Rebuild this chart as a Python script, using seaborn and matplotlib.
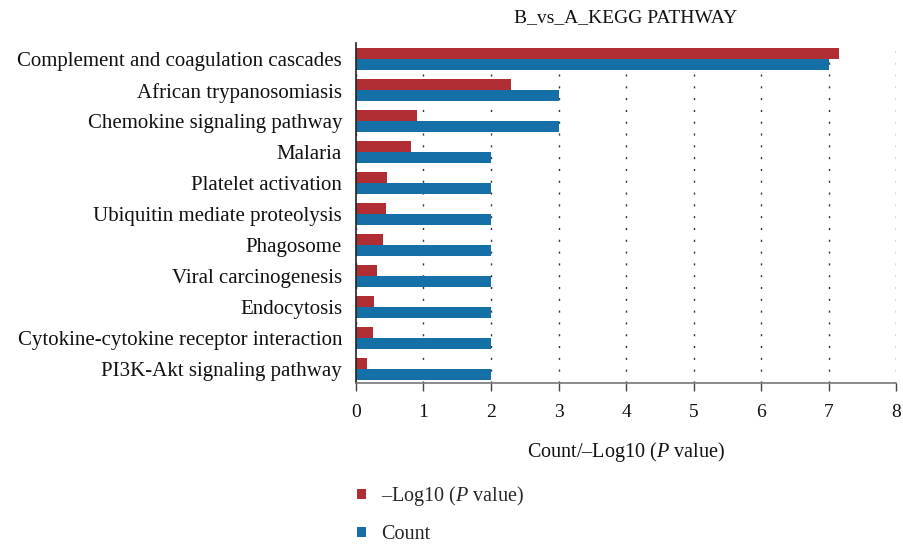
import seaborn as sns
import matplotlib.pyplot as plt
import pandas as pd

# KEGG pathways, top to bottom
pathways = [
    'Complement and coagulation cascades', 'African trypanosomiasis',
    'Chemokine signaling pathway', 'Malaria', 'Platelet activation',
    'Ubiquitin mediate proteolysis', 'Phagosome', 'Viral carcinogenesis',
    'Endocytosis', 'Cytokine-cytokine receptor interaction',
    'PI3K-Akt signaling pathway'
]
neg_log_p = [7.16, 2.30, 0.90, 0.82, 0.46, 0.45, 0.40, 0.31, 0.27, 0.25, 0.16]
counts = [7, 3, 3, 2, 2, 2, 2, 2, 2, 2, 2]

lab_p = '–Log10 ($P$ value)'
lab_c = 'Count'

df = pd.DataFrame({
    'Pathway': pathways * 2,
    'Measure': [lab_p] * len(pathways) + [lab_c] * len(pathways),
    'Value': neg_log_p + counts,
})

sns.set_theme(style='white')
plt.rcParams['font.family'] = ['Liberation Serif', 'DejaVu Serif']
plt.rcParams['mathtext.fontset'] = 'custom'
plt.rcParams['mathtext.rm'] = 'Liberation Serif'
plt.rcParams['mathtext.it'] = 'Liberation Serif:italic'

fig = plt.figure(figsize=(9.04, 5.46), dpi=100)
ax = fig.add_axes([356 / 904, 1 - 383 / 546, 540 / 904, 340 / 546])

sns.barplot(data=df, y='Pathway', x='Value', hue='Measure',
            hue_order=[lab_p, lab_c], order=pathways,
            palette=['#B02E33', '#1670A8'], saturation=1, width=0.72,
            linewidth=0, ax=ax, legend=True)

ax.set_xlim(0, 8)
ax.set_ylim(len(pathways) - 1 + 0.45, -0.52)
ax.set_xticks(range(0, 9))
ax.grid(axis='x', linestyle=(0, (1.5, 7)), color='#333333', linewidth=1.0)
ax.set_axisbelow(True)
for s in ['top', 'right']:
    ax.spines[s].set_visible(False)
ax.spines['left'].set_color('#222222')
ax.spines['left'].set_linewidth(1.2)
ax.spines['bottom'].set_color('#777777')
ax.spines['bottom'].set_linewidth(1.2)

ax.tick_params(axis='x', bottom=True, length=6, width=1, color='#444444',
               pad=9, labelsize=14, labelcolor='#111111')
ax.tick_params(axis='y', left=False, pad=4, labelsize=15, labelcolor='#111111')

ax.set_ylabel('')
ax.set_xlabel('Count/–Log10 ($P$ value)', fontsize=14.5, labelpad=13.5, color='#111111')
ax.set_title('B_vs_A_KEGG PATHWAY', fontsize=14, pad=15, color='#111111')

handles, labels = ax.get_legend_handles_labels()
ax.legend_.remove()
fig.legend(handles, labels, loc='upper left', bbox_to_anchor=(339 / 904, 1 - 466 / 546),
           frameon=False, fontsize=14.5, handlelength=0.42, handleheight=0.42,
           handletextpad=0.75, labelspacing=0.85)

plt.savefig('out.png', dpi=100)
